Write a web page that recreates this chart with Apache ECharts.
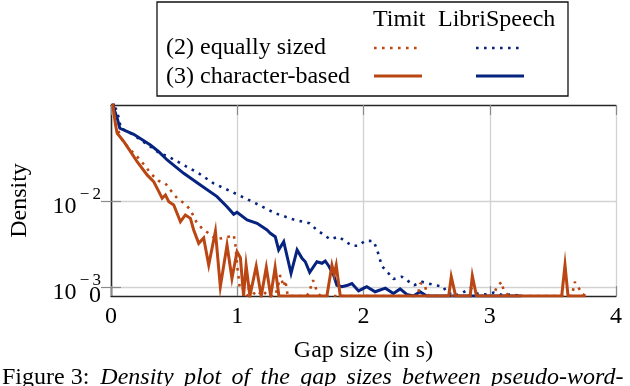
<!DOCTYPE html>
<html>
<head>
<meta charset="utf-8">
<script src="https://cdn.jsdelivr.net/npm/echarts@6/dist/echarts.min.js"></script>
<style>
html,body{margin:0;padding:0;background:#fff;}
#chart{width:630px;height:386px;}
</style>
</head>
<body>
<div id="chart"></div>
<script>
// ---- data (density values; 0 = empty bin) ----
const xTicks = [0, 1, 2, 3, 4];
const yTickExps = [-3, -2];

// LibriSpeech, (2) equally sized  (dotted blue)
const lsEqX = [0.0, 0.036, 0.067, 0.075, 0.18, 0.386, 0.445, 0.576, 0.695, 0.813, 0.998, 1.13, 1.301, 1.441, 1.573, 1.631, 1.737, 1.802, 1.908, 1.96, 2.013, 2.079, 2.106, 2.146, 2.198, 2.237, 2.304, 2.401, 2.462, 2.567, 2.633, 2.661, 2.688, 2.714, 2.78, 2.847, 2.9, 2.966, 3.034, 3.108, 3.174, 3.24];
const lsEqY = [0.3, 0.126, 0.0908, 0.0731, 0.0605, 0.0369, 0.0343, 0.0269, 0.0215, 0.0164, 0.0122, 0.00984, 0.00731, 0.00622, 0.00558, 0.00466, 0.00362, 0.00389, 0.00305, 0.00305, 0.00349, 0.00346, 0.00279, 0.00176, 0.00145, 0.00124, 0.00132, 0.00105, 0.00115, 0.00105, 0.00101, 0.00084, 0.00084, 0, 0.00085, 0.00097, 0.00084, 0.00082, 0.00086, 0.0008, 0.00082, 0];

// LibriSpeech, (3) character-based  (solid blue)
const lsChX = [0.0, 0.022, 0.049, 0.070, 0.18, 0.312, 0.378, 0.445, 0.576, 0.708, 0.840, 0.919, 0.972, 0.998, 1.078, 1.157, 1.236, 1.262, 1.301, 1.328, 1.368, 1.426, 1.474, 1.513, 1.539, 1.574, 1.631, 1.671, 1.697, 1.723, 1.763, 1.789, 1.829, 1.868, 1.908, 1.961, 2.026, 2.092, 2.173, 2.237, 2.29, 2.343, 2.395, 2.448, 2.501, 3.25];
const lsChY = [0.3, 0.1245, 0.0951, 0.0725, 0.0617, 0.0462, 0.0386, 0.0308, 0.0215, 0.0157, 0.01146, 0.00874, 0.00711, 0.00751, 0.0061, 0.00558, 0.00466, 0.00427, 0.00389, 0.00272, 0.0034, 0.00145, 0.00272, 0.00217, 0.00198, 0.00149, 0.00198, 0.0019, 0.00202, 0.00178, 0.00138, 0.00105, 0.00101, 0.00104, 0.0011, 0.0009, 0.00101, 0.00088, 0.00097, 0.00084, 0.00095, 0.00082, 0, 0.00088, 0, 0];

// Timit, (2) equally sized  (dotted orange)
const tEqX = [0.0, 0.018, 0.049, 0.089, 0.141, 0.18, 0.233, 0.273, 0.326, 0.379, 0.431, 0.471, 0.524, 0.59, 0.629, 0.682, 0.734, 0.787, 0.827, 0.88, 0.932, 0.972, 0.985, 0.992, 1.0, 1.01, 1.02, 1.038, 1.06, 1.08, 1.1, 1.13, 1.16, 1.2, 1.24, 1.3, 1.328, 1.341, 1.367, 1.381, 1.40, 1.55, 1.573, 1.586, 1.60, 1.613, 1.63, 1.66, 2.43, 2.448, 2.475, 2.49, 2.50, 2.52, 3.03, 3.055, 3.095, 3.108, 3.148, 3.65, 3.674, 3.70, 3.728, 3.76];
const tEqY = [0.3, 0.1245, 0.0725, 0.0528, 0.0423, 0.0369, 0.0308, 0.0257, 0.0206, 0.0175, 0.0164, 0.0137, 0.01096, 0.00933, 0.008, 0.00558, 0.00466, 0.00415, 0.00366, 0.00373, 0.00389, 0.00408, 0.00316, 0.00237, 0.00173, 0.00132, 0.00097, 0.00101, 0.00088, 0, 0.0011, 0.00085, 0, 0.00092, 0, 0, 0.0011, 0.00138, 0.00101, 0.0012, 0, 0, 0.00088, 0.00105, 0.0012, 0.0011, 0.00088, 0, 0, 0.0011, 0.0011, 0.001, 0.00084, 0, 0, 0.00101, 0.00115, 0.00093, 0, 0, 0.00115, 0.00101, 0.00084, 0];

// Timit, (3) character-based  (solid orange)
const tChX = [0.0, 0.018, 0.036, 0.049, 0.102, 0.155, 0.207, 0.286, 0.339, 0.379, 0.405, 0.431, 0.458, 0.497, 0.55, 0.589, 0.629, 0.655, 0.695, 0.734, 0.774, 0.827, 0.866, 0.919, 0.958, 0.998, 1.025, 1.05, 1.07, 1.10, 1.15, 1.19, 1.23, 1.265, 1.30, 1.33, 1.71, 1.75, 1.768, 1.784, 1.816, 2.675, 2.695, 2.71, 2.73, 2.845, 2.862, 2.877, 2.895, 3.57, 3.596, 3.62, 3.76];
const tChY = [0.3, 0.1245, 0.0793, 0.0634, 0.0505, 0.0386, 0.0294, 0.0206, 0.0171, 0.0131, 0.01096, 0.012, 0.01, 0.00915, 0.00583, 0.00699, 0.00638, 0.00466, 0.00325, 0.00375, 0.00181, 0.0045, 0.00101, 0.0031, 0.00126, 0.00259, 0.0022, 0, 0.0018, 0, 0.00175, 0, 0.0017, 0, 0.0017, 0, 0, 0.0018, 0.0014, 0.0018, 0, 0, 0.00132, 0.00132, 0, 0, 0.00135, 0.00135, 0, 0, 0.00181, 0, 0];

// ---- scale helpers ----
const ZERO = -3.105;   // axis floor where empty bins (0) are drawn
const YMAX = -0.867;
function toAxis(v) { return v > 0 ? Math.max(Math.log10(v), ZERO) : ZERO; }
function pairs(xs, ys) { return xs.map((x, i) => [x, toAxis(ys[i])]); }

const ORANGE = '#BA4713';
const BLUE = '#06237F';
const FONT = '"Liberation Serif", "DejaVu Serif", serif';

const chart = echarts.init(document.getElementById('chart'), null, {renderer: 'canvas'});

const gridLine = {show: true, lineStyle: {color: '#d2d2d2', width: 1.3}};
const tickStyle = {show: true, inside: true, length: 10, lineStyle: {color: '#8a8a8a', width: 1.2}};
const axisLineStyle = {show: true, lineStyle: {color: '#262626', width: 1.3}};
const yTickVals = yTickExps.slice();

const supRich = {
  b: {fontSize: 24, fontFamily: FONT, color: '#000', lineHeight: 33, verticalAlign: 'bottom'},
  m: {fontSize: 17, fontFamily: FONT, color: '#000', lineHeight: 17, verticalAlign: 'top', width: 16, align: 'center'},
  s: {fontSize: 17, fontFamily: FONT, color: '#000', lineHeight: 17, verticalAlign: 'top'}
};

// caption: justified line -> widened inter-word spaces
const captionWords = ['Density', 'plot', 'of', 'the', 'gap', 'sizes', 'between', 'pseudo-word-'];
const captionText = '{n|Figure 3:}{g| }' + captionWords.map(w => '{i|' + w + '}').join('{sp| }');

const option = {
  animation: false,
  backgroundColor: '#fff',
  grid: {left: 110.5, right: 14, top: 105, bottom: 90, containLabel: false},
  xAxis: [{
    type: 'value', min: 0, max: 4, interval: 1, position: 'bottom',
    axisLine: axisLineStyle, axisTick: tickStyle, splitLine: gridLine,
    axisLabel: {fontSize: 24, fontFamily: FONT, color: '#000', margin: 9,
      customValues: xTicks, formatter: v => String(v)},
    name: 'Gap size (in s)', nameLocation: 'middle', nameGap: 43,
    nameTextStyle: {fontSize: 24, fontFamily: FONT, color: '#000'}
  }, {
    type: 'value', min: 0, max: 4, interval: 1, position: 'top',
    axisLine: axisLineStyle, axisTick: tickStyle, splitLine: {show: false},
    axisLabel: {show: false}
  }],
  yAxis: [{
    type: 'value', min: ZERO, max: YMAX, position: 'left',
    axisLine: axisLineStyle,
    axisTick: Object.assign({}, tickStyle, {customValues: yTickVals}),
    splitLine: gridLine,
    axisLabel: {
      customValues: yTickVals,
      margin: 10, fontSize: 24, fontFamily: FONT, color: '#000',
      padding: [2, 0, 0, 0],
      formatter: function (v) {
        return '{b|10}{m|\u2212}{s|' + Math.abs(Math.round(v)) + '}';
      },
      rich: supRich
    },
    name: 'Density', nameLocation: 'middle', nameRotate: 90, nameGap: 79,
    nameTextStyle: {fontSize: 24, fontFamily: FONT, color: '#000'}
  }, {
    type: 'value', min: ZERO, max: YMAX, position: 'right',
    axisLine: axisLineStyle,
    axisTick: Object.assign({}, tickStyle, {customValues: yTickVals}),
    splitLine: {show: false}, axisLabel: {show: false}
  }, {
    // separate axis carrying only the "0" label at the floor
    type: 'value', min: ZERO, max: YMAX, position: 'left',
    axisLine: {show: false}, axisTick: {show: false}, splitLine: {show: false},
    axisLabel: {customValues: [ZERO], margin: 10, fontSize: 24, fontFamily: FONT, color: '#000',
      padding: [2, 0, 0, 0], formatter: () => '0', showMinLabel: true}
  }],
  series: [
    {name: 'LibriSpeech (2) equally sized', type: 'line', xAxisIndex: 0, yAxisIndex: 0,
     data: pairs(lsEqX, lsEqY), showSymbol: false, clip: true, z: 2,
     lineStyle: {color: BLUE, width: 2.6, type: [2.6, 5.4], cap: 'butt'}},
    {name: 'LibriSpeech (3) character-based', type: 'line', xAxisIndex: 0, yAxisIndex: 0,
     data: pairs(lsChX, lsChY), showSymbol: false, clip: true, z: 3,
     lineStyle: {color: BLUE, width: 3, join: 'miter'}},
    {name: 'Timit (2) equally sized', type: 'line', xAxisIndex: 0, yAxisIndex: 0,
     data: pairs(tEqX, tEqY), showSymbol: false, clip: true, z: 4,
     lineStyle: {color: ORANGE, width: 2.6, type: [2.6, 5.4], cap: 'butt'}},
    {name: 'Timit (3) character-based', type: 'line', xAxisIndex: 0, yAxisIndex: 0,
     data: pairs(tChX, tChY), showSymbol: false, clip: true, z: 5,
     lineStyle: {color: ORANGE, width: 3, join: 'miter'}}
  ],
  graphic: [
    {type: 'rect', shape: {x: 157, y: 2, width: 411, height: 94},
     style: {fill: '#fff', stroke: '#111', lineWidth: 1.3}, z: 10},
    {type: 'text', x: 373, y: 20, style: {text: 'Timit', font: '24px ' + FONT, fill: '#000', textVerticalAlign: 'middle'}, z: 11},
    {type: 'text', x: 438, y: 20, style: {text: 'LibriSpeech', font: '24px ' + FONT, fill: '#000', textVerticalAlign: 'middle'}, z: 11},
    {type: 'text', x: 166, y: 48, style: {text: '(2) equally sized', font: '24px ' + FONT, fill: '#000', textVerticalAlign: 'middle'}, z: 11},
    {type: 'text', x: 166, y: 77, style: {text: '(3) character-based', font: '24px ' + FONT, fill: '#000', textVerticalAlign: 'middle'}, z: 11},
    {type: 'line', shape: {x1: 374, y1: 48, x2: 422, y2: 48}, style: {stroke: ORANGE, lineWidth: 2.6, lineDash: [2.6, 5.4]}, z: 11},
    {type: 'line', shape: {x1: 476, y1: 48, x2: 524, y2: 48}, style: {stroke: BLUE, lineWidth: 2.6, lineDash: [2.6, 5.4]}, z: 11},
    {type: 'line', shape: {x1: 374, y1: 76, x2: 422, y2: 76}, style: {stroke: ORANGE, lineWidth: 3}, z: 11},
    {type: 'line', shape: {x1: 476, y1: 76, x2: 524, y2: 76}, style: {stroke: BLUE, lineWidth: 3}, z: 11},
    {type: 'text', x: 2, y: 390, z: 11, style: {
      text: captionText,
      textVerticalAlign: 'bottom',
      rich: {
        n: {font: '24px ' + FONT, fill: '#000'},
        g: {font: '24px ' + FONT, fill: '#000', width: 11},
        sp: {font: '24px ' + FONT, fill: '#000', width: 10.3},
        i: {font: 'italic 24px ' + FONT, fill: '#000'}
      }
    }}
  ]
};
chart.setOption(option);
</script>
</body>
</html>
